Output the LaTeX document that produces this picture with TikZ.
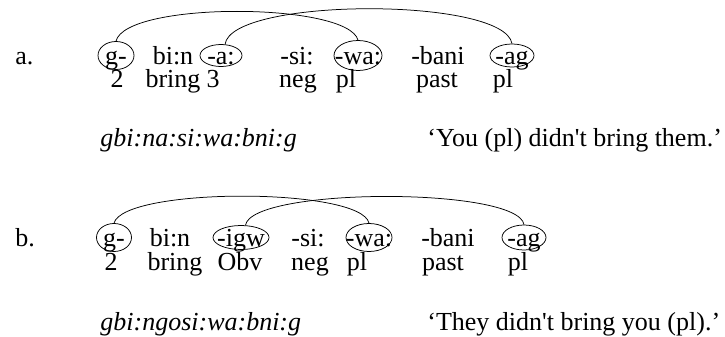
\documentclass[tikz,border=0pt]{standalone}
\usepackage{fontspec}
\setmainfont{Liberation Serif}
\usepackage{tikz}
\usetikzlibrary{shapes.geometric}
\tikzset{every picture/.style={line width=0.75pt}}
\tikzset{
  mor/.style={anchor=base, inner sep=0pt, text height=17pt, text depth=0pt, font=\fontsize{26}{26}\selectfont},
  lab/.style={anchor=base west, inner sep=0pt, font=\fontsize{26}{26}\selectfont},
  ring/.style={draw, ellipse, inner sep=0pt},
}

\begin{document}
\begin{tikzpicture}[x=1pt,y=1pt,yscale=-1,xscale=1]
\useasboundingbox (0,0) rectangle (725,337);

%Text: example a
\node[lab] (lbla) at (15,64) {a.};
\node[mor] (ga) at (116,64) {g-};
\node[mor] (bina) at (173,64) {bi:n};
\node[mor] (aa) at (221,64) {-a:};
\node[mor] (sia) at (297,64) {-si:};
\node[mor] (waa) at (358,64) {-wa:};
\node[mor] (bania) at (438,64) {-bani};
\node[mor] (aga) at (512,64) {-ag};
%Text: glosses a
\node[mor] (twoa) at (117,88) {2};
\node[mor] (bringa) at (173,88) {bring};
\node[mor] (threea) at (213,88) {3};
\node[mor] (nega) at (298,88) {neg};
\node[mor] (pla) at (346,88) {pl};
\node[mor] (pasta) at (437,88) {past};
\node[mor] (plla) at (503,88) {pl};
%Shape: Ellipse
\node[ring, minimum width=36pt, minimum height=28pt] (gar) at (ga.center) {};
\node[ring, minimum width=42pt, minimum height=22pt] (aar) at (aa.center) {};
\node[ring, minimum width=48pt, minimum height=30pt] (war) at (waa.center) {};
\node[ring, minimum width=44pt, minimum height=23pt] (agr) at (aga.center) {};
%Curve Lines
\draw (gar.north) .. controls +(10,-40) and +(-10,-38) .. (war.north);
\draw (aar.70) .. controls +(6,-47) and +(-8,-47) .. (agr.north);
%Text: word and translation a
\node[lab] (worda) at (100,146) {\itshape gbi:na:si:wa:bni:g};
\node[lab] (transa) at (427,146) {‘You (pl) didn\textquotesingle t bring them.’};

%Text: example b
\node[lab] (lblb) at (15,246) {b.};
\node[mor] (gb) at (114,246) {g-};
\node[mor] (binb) at (170,246) {bi:n};
\node[mor] (igwb) at (241,246) {-igw};
\node[mor] (sib) at (308,246) {-si:};
\node[mor] (wab) at (369,246) {-wa:};
\node[mor] (banib) at (448,246) {-bani};
\node[mor] (agb) at (524,246) {-ag};
%Text: glosses b
\node[mor] (twob) at (111,270) {2};
\node[mor] (bringb) at (175,270) {bring};
\node[mor] (obvb) at (240,270) {Obv};
\node[mor] (negb) at (310,270) {neg};
\node[mor] (plb) at (357,270) {pl};
\node[mor] (pastb) at (443,270) {past};
\node[mor] (pllb) at (518,270) {pl};
%Shape: Ellipse
\node[ring, minimum width=35pt, minimum height=28pt] (gbr) at (gb.center) {};
\node[ring, minimum width=56pt, minimum height=24pt] (igwr) at (igwb.center) {};
\node[ring, minimum width=46pt, minimum height=28pt] (wbr) at (wab.center) {};
\node[ring, minimum width=44pt, minimum height=25pt] (agbr) at (agb.center) {};
%Curve Lines
\draw (gbr.north) .. controls +(10,-36) and +(-8,-36) .. (wbr.north);
\draw (igwr.70) .. controls +(6,-38) and +(-6,-38) .. (agbr.north);
%Text: word and translation b
\node[lab] (wordb) at (100,330) {\itshape gbi:ngosi:wa:bni:g};
\node[lab] (transb) at (427,330) {‘They didn\textquotesingle t bring you (pl).’};

\end{tikzpicture}
\end{document}
